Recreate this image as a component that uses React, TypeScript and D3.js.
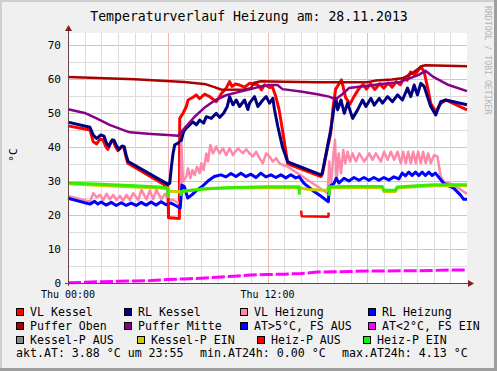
import React from "react";
import * as d3 from "d3";

// time in hours since Thu 00:00, values in °C
type Pt = [number, number | null];

const vlKessel: Pt[] = [
  [0, 46.2], [1.32, 45.0], [1.52, 41.5], [1.72, 40.9], [1.92, 42.3], [2.1, 42.1], [2.28, 40.1], [2.4, 39.3],
  [2.58, 41.6], [2.7, 41.9], [2.88, 39.9], [3.0, 38.9], [3.22, 40.1], [3.36, 39.9], [3.48, 37.2], [3.6, 35.2],
  [6.0, 28.3], [6.05, 19.2], [6.7, 19.0], [6.72, 48.4], [6.92, 49.9], [7.12, 51.9], [7.22, 53.8], [7.52, 54.6],
  [7.72, 55.3], [7.92, 54.2], [8.22, 55.5], [8.52, 54.8], [8.92, 53.3], [9.24, 55.8], [9.48, 57.0], [9.72, 59.2],
  [9.86, 57.8], [10.08, 58.5], [10.32, 58.2], [10.62, 57.6], [10.92, 58.7], [11.4, 58.3], [11.64, 56.8],
  [11.82, 58.3], [12.12, 57.5], [12.3, 57.6], [12.5, 54.8], [12.7, 50.9], [12.9, 45.0], [13.22, 35.0],
  [15.22, 31.3], [15.3, 32.0], [15.6, 39.5], [15.8, 44.0], [15.95, 52.0], [16.1, 57.0], [16.45, 59.7],
  [16.7, 54.5], [16.96, 52.6], [17.2, 54.8], [17.52, 57.3], [17.75, 58.3], [17.95, 57.0], [18.2, 58.5],
  [18.45, 56.9], [18.75, 58.6], [19.0, 57.3], [19.25, 58.8], [19.5, 57.6], [19.75, 59.2], [20.0, 58.3],
  [20.2, 60.3], [20.4, 59.6], [20.6, 62.0], [20.85, 61.2], [21.05, 62.4], [21.22, 63.6], [21.42, 62.1],
  [21.62, 57.7], [21.82, 52.8], [22.12, 50.4], [22.42, 52.8], [22.72, 53.8], [24, 50.9],
];

const rlKessel: Pt[] = [
  [0, 47.3], [1.32, 45.8], [1.52, 43.5], [1.72, 42.5], [1.98, 43.5], [2.16, 43.2], [2.32, 41.1], [2.48, 40.3],
  [2.66, 42.1], [2.78, 41.9], [2.92, 40.3], [3.06, 39.3], [3.26, 40.3], [3.38, 40.1], [3.5, 37.6], [3.62, 35.7],
  [6.02, 29.0], [6.12, 29.3], [6.22, 34.2], [6.32, 38.1], [6.42, 40.6], [6.62, 41.1], [6.82, 41.9], [6.92, 44.0],
  [7.02, 45.0], [7.22, 46.0], [7.52, 47.4], [7.72, 46.5], [7.92, 47.9], [8.16, 47.0], [8.32, 48.9], [8.62, 48.4],
  [8.92, 49.9], [9.12, 48.7], [9.36, 49.9], [9.58, 51.9], [9.72, 54.8], [9.92, 52.4], [10.12, 53.8],
  [10.32, 51.9], [10.62, 53.8], [10.82, 51.0], [10.92, 52.9], [11.22, 54.8], [11.42, 51.9], [11.72, 53.8],
  [11.92, 54.8], [12.12, 52.9], [12.32, 54.3], [12.42, 51.0], [12.62, 46.0], [12.9, 40.0], [13.22, 35.6],
  [15.22, 31.8], [15.3, 32.5], [15.6, 40.0], [15.8, 45.0], [16.02, 52.0], [16.12, 54.3], [16.22, 50.9],
  [16.42, 53.8], [16.62, 49.9], [16.82, 52.9], [17.12, 48.4], [17.42, 50.9], [17.72, 53.8], [17.92, 51.9],
  [18.22, 54.3], [18.42, 52.3], [18.72, 54.3], [18.92, 52.9], [19.22, 54.8], [19.52, 53.3], [19.82, 55.3],
  [20.12, 53.8], [20.42, 57.3], [20.62, 54.8], [20.82, 58.2], [21.02, 55.3], [21.22, 58.7], [21.42, 57.8],
  [21.62, 54.8], [21.82, 51.9], [22.12, 49.4], [22.42, 53.3], [22.72, 53.8], [24, 52.4],
];

const vlHeizung: Pt[] = [
  [0, 25.6], [1.32, 23.9], [1.52, 26.4], [1.72, 25.2], [1.92, 25.9], [2.12, 24.4], [2.32, 26.2], [2.52, 24.6],
  [2.72, 25.9], [2.92, 24.4], [3.12, 25.6], [3.32, 24.2], [3.52, 25.9], [3.72, 24.4], [3.92, 26.4], [4.22, 24.4],
  [4.42, 27.4], [4.72, 24.6], [4.92, 27.2], [5.12, 24.6], [5.32, 27.4], [5.62, 24.6], [5.82, 26.2], [6.02, 24.4],
  [6.32, 24.4], [6.62, 23.6], [6.76, 23.9], [6.82, 41.1], [6.92, 29.8], [7.12, 31.3], [7.22, 33.7], [7.36, 30.8],
  [7.48, 33.2], [7.62, 31.8], [7.76, 34.2], [7.92, 32.3], [8.02, 35.2], [8.16, 33.2], [8.32, 38.1], [8.42, 35.7],
  [8.56, 40.6], [8.72, 38.1], [8.92, 40.1], [9.12, 38.1], [9.32, 39.6], [9.52, 37.6], [9.72, 39.6], [9.92, 37.6],
  [10.22, 39.6], [10.52, 38.1], [10.72, 39.3], [10.92, 38.1], [11.12, 37.2], [11.32, 38.6], [11.52, 36.7],
  [11.72, 35.2], [11.92, 38.1], [12.12, 37.2], [12.32, 35.7], [12.52, 36.7], [12.72, 35.2], [12.92, 34.7],
  [13.22, 34.2], [15.62, 26.4], [15.72, 35.7], [15.82, 28.8], [15.96, 37.2], [16.06, 42.1], [16.16, 30.3],
  [16.28, 38.1], [16.42, 32.2], [16.56, 39.1], [16.68, 35.2], [16.82, 38.6], [16.96, 35.7], [17.12, 38.1],
  [17.32, 35.7], [17.52, 38.1], [17.82, 35.7], [18.12, 38.1], [18.32, 36.2], [18.52, 38.1], [18.82, 35.7],
  [19.02, 38.6], [19.22, 36.2], [19.42, 38.6], [19.62, 36.2], [19.82, 38.6], [20.02, 35.2], [20.16, 38.6],
  [20.32, 35.2], [20.46, 38.6], [20.62, 35.2], [20.76, 38.6], [20.92, 35.2], [21.06, 38.6], [21.22, 35.2],
  [21.36, 38.6], [21.52, 35.2], [21.66, 38.1], [21.82, 35.2], [22.02, 37.6], [22.22, 37.2], [22.42, 31.3],
  [22.62, 29.8], [22.92, 29.3], [23.22, 28.8], [23.52, 27.8], [24, 26.2],
];

const rlHeizung: Pt[] = [
  [0, 24.9], [1.32, 23.2], [1.6, 24.0], [1.8, 23.2], [2.0, 23.8], [2.3, 22.9], [2.6, 23.7], [2.9, 22.8],
  [3.2, 23.6], [3.5, 22.8], [3.8, 23.5], [4.1, 22.8], [4.4, 23.7], [4.7, 22.9], [5.0, 23.8], [5.3, 22.9],
  [5.6, 23.9], [5.9, 23.0], [6.2, 23.5], [6.5, 22.7], [6.75, 22.0], [6.85, 28.8], [7.0, 28.3], [7.2, 25.0],
  [7.45, 25.9], [7.75, 27.3], [8.05, 28.3], [8.5, 30.3], [8.8, 31.3], [9.2, 31.8], [9.5, 31.2], [9.8, 32.2],
  [10.1, 31.3], [10.4, 32.3], [10.7, 31.3], [11.0, 32.0], [11.3, 31.0], [11.6, 32.3], [11.9, 31.2], [12.2, 31.8],
  [12.5, 31.0], [12.8, 31.8], [13.1, 30.9], [13.4, 31.8], [13.7, 30.9], [13.9, 31.3], [14.2, 29.3], [14.8, 26.9],
  [15.25, 25.4], [15.66, 23.9], [15.72, 28.3], [16.0, 29.3], [16.14, 30.8], [16.3, 29.4], [16.6, 30.8],
  [16.9, 30.0], [17.2, 31.0], [17.5, 30.2], [17.8, 31.0], [18.1, 30.2], [18.4, 31.0], [18.7, 30.2], [19.0, 31.0],
  [19.3, 30.3], [19.6, 31.2], [19.9, 30.6], [20.1, 32.3], [20.3, 31.5], [20.5, 32.6], [20.7, 31.6], [20.9, 32.6],
  [21.1, 31.6], [21.3, 32.6], [21.5, 31.6], [21.7, 32.6], [21.9, 31.6], [22.1, 32.3], [22.6, 29.3], [23.2, 27.9],
  [23.6, 25.9], [23.8, 24.6], [24, 24.6],
];

const pufferOben: Pt[] = [
  [0, 60.6], [4, 59.9], [7, 59.1], [8.3, 58.4], [8.8, 57.6], [9.2, 56.9], [10.5, 56.8], [11.0, 57.3],
  [11.2, 58.9], [11.6, 59.3], [13, 59.2], [15, 59.0], [18, 59.0], [18.5, 59.5], [19.5, 59.8], [20.2, 60.3],
  [20.8, 62.0], [21.3, 63.8], [21.5, 64.0], [24, 63.7],
];

const pufferMitte: Pt[] = [
  [0, 51.1], [1.0, 50.0], [1.72, 48.4], [2.5, 46.5], [3.3, 45.0], [3.72, 44.3], [5, 43.8], [6, 43.5],
  [6.62, 43.3], [7.0, 45.5], [7.6, 48.8], [8.2, 51.5], [8.8, 53.6], [9.5, 55.2], [10.3, 56.2], [11.0, 57.0],
  [11.6, 57.8], [12.1, 58.2], [12.6, 58.2], [12.9, 57.0], [14, 56.3], [15, 55.5], [15.7, 54.8], [16.1, 54.0],
  [16.5, 55.5], [16.9, 57.3], [18, 58.0], [19, 58.6], [19.9, 59.0], [21.1, 61.2], [21.5, 62.4], [22.0, 60.5],
  [22.9, 58.2], [24, 56.4],
];

const at5FsAus: Pt[] = [];

const at2FsEin: Pt[] = [
  [0, 0.1], [1, 0.2], [2, 0.4], [3, 0.5], [4, 0.6], [5, 0.7], [6, 1.0], [7, 1.2], [8, 1.4], [9, 1.7],
  [10, 2.0], [11, 2.35], [12, 2.5], [13, 2.6], [14, 2.8], [15, 3.2], [16, 3.3], [17, 3.4], [18, 3.5],
  [19, 3.5], [20, 3.6], [21, 3.6], [22, 3.7], [23, 3.8], [24, 3.8],
];

const kesselPAus: Pt[] = [];

const kesselPEin: Pt[] = [
  [0, 29.2], [2, 28.7], [4, 28.2], [5.5, 27.9], [6.0, 27.7], [6.1, 27.0], [6.8, 26.8], [7.2, 27.2], [8, 27.6],
  [10, 28.0], [12, 28.0], [13.9, 28.0], [14.5, 27.5], [15.7, 27.2], [15.8, 28.0], [18.9, 28.1], [19.0, 26.9],
  [19.7, 26.9], [19.8, 28.0], [22, 28.6], [24, 28.6],
];

const heizPAus: Pt[] = [
  [6.03, 25.0], [6.06, 19.2], [6.7, 19.0], [6.71, null],
  [14.02, 21.3], [14.06, 19.6], [15.66, 19.5], [15.68, 20.7],
];

const heizPEin: Pt[] = [
  [0, 29.4], [2, 29.0], [4, 28.6], [5.5, 28.2], [6.0, 27.9], [6.03, 25.0], [6.04, null],
  [6.8, 25.6], [6.82, 27.0], [7.5, 27.3], [8.5, 27.8], [10, 28.1], [12, 28.3], [13.9, 28.3], [13.92, 26.0],
  [13.93, null], [15.7, 25.6], [15.72, 28.3], [17, 28.4], [18.9, 28.4], [19.0, 27.3], [19.7, 27.3],
  [19.8, 28.2], [21, 28.6], [22, 28.9], [24, 28.9],
];

const legendRows = [
  ["VL Kessel", "RL Kessel", "VL Heizung", "RL Heizung"],
  ["Puffer Oben", "Puffer Mitte", "AT>5°C, FS AUS", "AT<2°C, FS EIN"],
  ["Kessel-P AUS", "Kessel-P EIN", "Heiz-P AUS", "Heiz-P EIN"],
];
const footer = ["akt.AT: 3.88 °C um 23:55", "min.AT24h: 0.00 °C", "max.AT24h: 4.13 °C"];
const yTicks = [0, 10, 20, 30, 40, 50, 60, 70];
const xLabels: [number, string][] = [[0, "Thu 00:00"], [12, "Thu 12:00"]];

const series = [
  { data: vlKessel, color: "#FF0000", w: 3 },
  { data: rlKessel, color: "#000080", w: 3 },
  { data: vlHeizung, color: "#FF88AA", w: 2.5 },
  { data: rlHeizung, color: "#0000FF", w: 3 },
  { data: pufferOben, color: "#AA0000", w: 2.5 },
  { data: pufferMitte, color: "#880088", w: 2.5 },
  { data: at5FsAus, color: "#0000FF", w: 2.5 },
  { data: at2FsEin, color: "#FF00FF", w: 3, dash: "13,3" },
  { data: kesselPAus, color: "#888888", w: 2.5 },
  { data: kesselPEin, color: "#CCCC00", w: 3 },
  { data: heizPAus, color: "#FF0000", w: 2.5 },
  { data: heizPEin, color: "#33EE00", w: 3 },
];

const legendColors = [
  ["#FF0000", "#000080", "#FF88AA", "#0000FF"],
  ["#AA0000", "#880088", "#0000FF", "#FF00FF"],
  ["#888888", "#CCCC00", "#FF0000", "#00FF00"],
];

const W = 497, H = 371;
const L = 68, R = 467, T = 33, B = 283;
const FONT = "'DejaVu Sans Mono', monospace";

export default function App() {
  const x = d3.scaleLinear().domain([0, 24]).range([L, R]);
  const y = d3.scaleLinear().domain([0, 73.5]).range([B, T]);
  const line = d3.line<Pt>()
    .defined((d) => d[1] != null)
    .x((d) => x(d[0]))
    .y((d) => y(d[1] as number));

  const hours = d3.range(1, 24);
  const minorY = d3.range(5, 73, 5);
  const colX = [[16, 124, 240, 368], [16, 124, 240, 368], [16, 137, 257, 363]];

  return (
    <div style={{ position: "fixed", left: 0, top: 0 }}>
      <svg width={W} height={H} style={{ display: "block" }}>
        <rect x={0} y={0} width={W} height={H} fill="#F0F0F0" />
        <rect x={0} y={0} width={W} height={2} fill="#CFCFCF" />
        <rect x={0} y={0} width={2} height={H} fill="#CFCFCF" />
        <rect x={W - 3} y={0} width={3} height={H} fill="#9E9E9E" />
        <rect x={0} y={H - 3} width={W} height={3} fill="#9E9E9E" />

        <text x={249} y={21} textAnchor="middle" fontFamily={FONT} fontSize={13.2} fill="#000">
          Temperaturverlauf Heizung am: 28.11.2013
        </text>
        <text transform="translate(485,6) rotate(90)" fontFamily={FONT} fontSize={8.2} fill="#B4B4B4">
          RRDTOOL / TOBI OETIKER
        </text>

        <rect x={L} y={T} width={R - L} height={B - T} fill="#FFFFFF" />
        {minorY.map((v) => (
          <line key={"gy" + v} x1={L} x2={R} y1={Math.round(y(v)) + 0.5} y2={Math.round(y(v)) + 0.5}
            stroke={v % 10 === 0 ? "#F2B4B4" : "#DCDCDC"} strokeWidth={1} />
        ))}
        {hours.map((h) => (
          <line key={"gx" + h} x1={Math.round(x(h)) + 0.5} x2={Math.round(x(h)) + 0.5} y1={T} y2={B}
            stroke={h % 6 === 0 ? "#F2B4B4" : "#DCDCDC"} strokeWidth={1} />
        ))}

        {series.map((s, i) => (
          <path key={"s" + i} d={line(s.data) || ""} fill="none" stroke={s.color} strokeWidth={s.w}
            strokeLinejoin="round" strokeDasharray={s.dash} />
        ))}

        <line x1={L + 0.5} x2={L + 0.5} y1={B + 3} y2={29} stroke="#6A4444" strokeWidth={1} />
        <path d={`M${L + 0.5},25 L${L - 3},31 L${L + 4},31 Z`} fill="#801F1F" />
        <line x1={L - 3} x2={R + 2} y1={B + 0.5} y2={B + 0.5} stroke="#6A4444" strokeWidth={1} />
        <path d={`M474,${B + 0.5} L468,${B - 3} L468,${B + 4} Z`} fill="#801F1F" />

        {yTicks.map((v) => (
          <text key={"yt" + v} x={61} y={y(v)} dy="0.36em" textAnchor="end" fontFamily={FONT} fontSize={11} fill="#000">
            {v}
          </text>
        ))}
        {xLabels.map(([h, t]) => (
          <text key={t} x={x(h)} y={298} textAnchor="middle" fontFamily={FONT} fontSize={10} fill="#000">
            {t}
          </text>
        ))}
        <text transform="translate(17,155) rotate(-90)" textAnchor="middle" fontFamily={FONT} fontSize={11} fill="#000">
          °C
        </text>

        {legendRows.map((row, r) =>
          row.map((label, c) => (
            <g key={label} transform={`translate(${colX[r][c]},${308 + r * 14})`}>
              <rect x={0.5} y={0.5} width={7} height={7} fill={legendColors[r][c]} stroke="#000" strokeWidth={1} />
              <text x={14} y={7.5} fontFamily={FONT} fontSize={11.6} fill="#000" style={{ whiteSpace: "pre" }}>
                {label}
              </text>
            </g>
          ))
        )}
        {footer.map((t, i) => (
          <text key={t} x={[16, 200, 342][i]} y={356.5} fontFamily={FONT} fontSize={11.6} fill="#000">
            {t}
          </text>
        ))}
      </svg>
    </div>
  );
}
